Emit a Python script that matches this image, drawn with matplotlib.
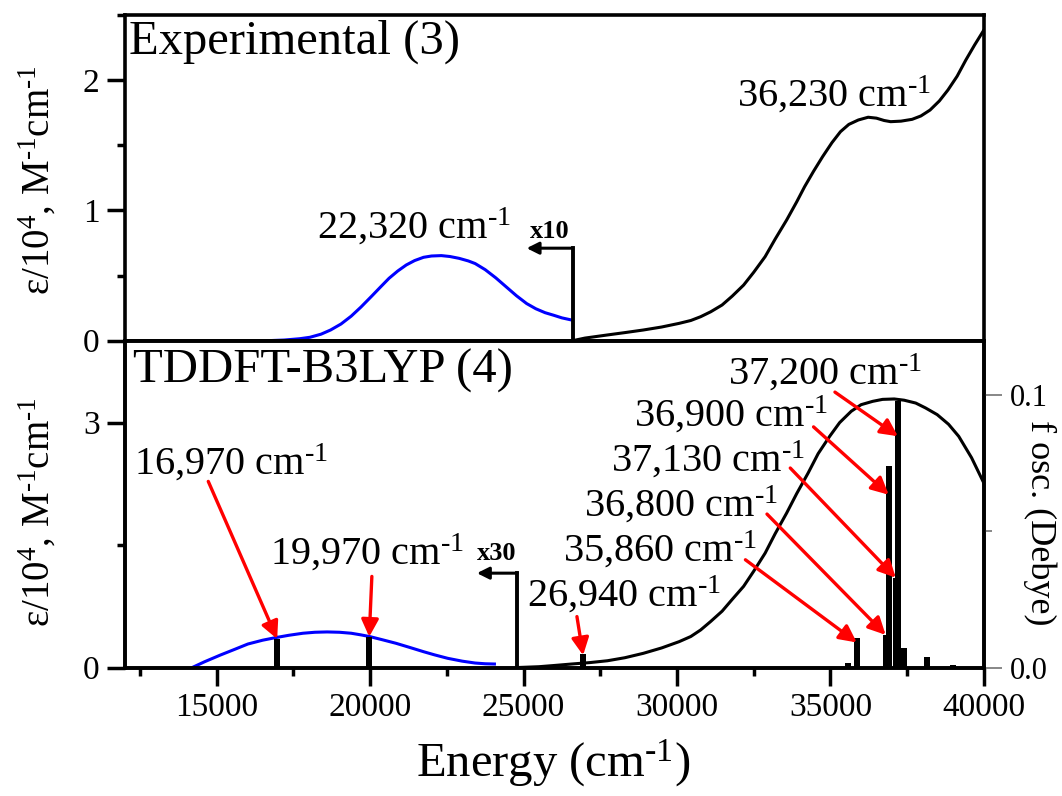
import matplotlib
matplotlib.use("Agg")
import matplotlib.pyplot as plt
from matplotlib.ticker import MultipleLocator, FormatStrFormatter

plt.rcParams["font.family"] = "Liberation Serif"
plt.rcParams["mathtext.fontset"] = "custom"
plt.rcParams["mathtext.rm"] = "Liberation Serif"
plt.rcParams["mathtext.it"] = "Liberation Serif:italic"
plt.rcParams["mathtext.bf"] = "Liberation Serif:bold"

# Experimental spectrum: low-energy band shown x10 (blue), rest at full scale (black)
exp_low_energy = [16650, 17200, 17700, 18035, 18400, 18710, 19050, 19381, 19700, 20055,
                  20350, 20616, 20900, 21176, 21450, 21740, 22000, 22320, 22600, 22900,
                  23200, 23422, 23750, 24096, 24400, 24768, 25100, 25400, 25700, 25984,
                  26250, 26560]
exp_low_eps = [0.0, 0.005, 0.015, 0.026, 0.05, 0.082, 0.128, 0.188, 0.258, 0.343,
               0.415, 0.479, 0.535, 0.581, 0.615, 0.640, 0.650, 0.653, 0.646, 0.632,
               0.612, 0.592, 0.545, 0.482, 0.42, 0.345, 0.285, 0.245, 0.215, 0.195,
               0.175, 0.159]
exp_high_energy = [26600, 27000, 27733, 28300, 28902, 29500, 30070, 30450, 30770, 31100,
                   31470, 31800, 32172, 32500, 32872, 33200, 33573, 33900, 34159, 34450,
                   34744, 35050, 35327, 35600, 35910, 36230, 36500, 36750, 36963, 37300,
                   37663, 37950, 38246, 38550, 38830, 39130, 39413, 39700, 40000]
exp_high_eps = [0.0, 0.02, 0.044, 0.062, 0.082, 0.105, 0.133, 0.155, 0.184, 0.222,
                0.274, 0.342, 0.427, 0.525, 0.645, 0.78, 0.926, 1.065, 1.182, 1.30,
                1.412, 1.52, 1.604, 1.66, 1.694, 1.715, 1.708, 1.69, 1.681, 1.685,
                1.699, 1.725, 1.770, 1.84, 1.924, 2.03, 2.154, 2.27, 2.384]
exp_peaks = [22320, 36230]
exp_split = 26600        # where the x10 part ends
exp_split_mark = 0.71
exp_split_arrow_end = 25100

# TDDFT-B3LYP simulated spectrum: low-energy part x30 (blue), rest black
calc_low_energy = [14200, 14600, 15119, 15600, 16015, 16500, 16914, 17350, 17810, 18200,
                   18596, 19000, 19381, 19700, 20000, 20400, 20841, 21300, 21740, 22100,
                   22526, 23000, 23422, 23750, 24050]
calc_low_eps = [0.0, 0.07, 0.153, 0.225, 0.288, 0.335, 0.366, 0.395, 0.42, 0.432,
                0.436, 0.432, 0.42, 0.40, 0.378, 0.34, 0.297, 0.245, 0.194, 0.155,
                0.113, 0.078, 0.055, 0.046, 0.043]
calc_high_energy = [24800, 25500, 26000, 26567, 27150, 27733, 28300, 28902, 29500, 30070,
                    30450, 30770, 31100, 31470, 31800, 32172, 32500, 32872, 33200, 33573,
                    33900, 34274, 34600, 34975, 35300, 35678, 36000, 36379, 36700, 37080,
                    37400, 37780, 38100, 38480, 38850, 39182, 39600, 40000]
calc_high_eps = [0.0, 0.01, 0.025, 0.043, 0.06, 0.083, 0.12, 0.174, 0.24, 0.317,
                 0.38, 0.46, 0.565, 0.69, 0.835, 0.995, 1.18, 1.401, 1.64, 1.892,
                 2.13, 2.383, 2.62, 2.832, 3.0, 3.139, 3.22, 3.261, 3.285, 3.29,
                 3.275, 3.24, 3.18, 3.098, 2.98, 2.832, 2.57, 2.26]
calc_split = 24790
calc_split_mark = 1.156
calc_split_arrow_end = 23480

# calculated transitions (oscillator strengths, right axis)
trans_energy = [16970, 19970, 26940, 35570, 35860, 36800, 36900, 37130, 37200, 37400, 38150, 39000]
trans_fosc = [0.0105, 0.0113, 0.0050, 0.0015, 0.0110, 0.012, 0.074, 0.033, 0.098, 0.0071, 0.0040, 0.0010]

# labelled transitions: (energy, text pos in axes coords, arrow tail in axes coords, arrow tip height)
trans_labels = [
    (16970, (0.0108, 0.591), (0.0973, 0.570), 0.0105),
    (19970, (0.1691, 0.315), (0.2877, 0.279), 0.0113),
    (26940, (0.4682, 0.187), (0.5264, 0.156), 0.0045),
    (35860, (0.5098, 0.325), (0.7225, 0.330), 0.0092),
    (36800, (0.5346, 0.463), (0.7476, 0.470), 0.012),
    (37130, (0.5660, 0.601), (0.7747, 0.611), 0.033),
    (36900, (0.5932, 0.739), (0.8018, 0.737), 0.0635),
    (37200, (0.7017, 0.867), (0.8267, 0.8435), 0.085),
]

SPINE_W = 2.6
INV = "$^{\\mathrm{\u2010}\\mathrm{1}}$"   # superscript "-1" drawn with a hyphen
CM = " cm" + INV


def wavenumber(value):
    return f"{value:,}" + CM


def style_axes(ax):
    for spine in ax.spines.values():
        spine.set_linewidth(SPINE_W)
    ax.tick_params(which="major", direction="out", length=13, width=2.5, labelsize=24, pad=5)
    ax.tick_params(which="minor", direction="out", length=6, width=2.5)


fig = plt.figure(figsize=(10.62, 7.96), dpi=100)
ax_exp = fig.add_axes([0.1174, 0.572, 0.8090, 0.4092])
ax_calc = fig.add_axes([0.1174, 0.1614, 0.8090, 0.4102])
ax_osc = ax_calc.twinx()

# --- experimental panel
style_axes(ax_exp)
ax_exp.plot(exp_low_energy, exp_low_eps, color="#0000ff", lw=2.2)
ax_exp.plot(exp_high_energy, exp_high_eps, color="black", lw=2.2)
ax_exp.plot([exp_split, exp_split], [0, exp_split_mark], color="black", lw=2.8)
ax_exp.annotate("", xy=(exp_split_arrow_end, exp_split_mark), xytext=(exp_split, exp_split_mark),
                arrowprops=dict(arrowstyle="-|>", color="black", lw=2.2, mutation_scale=18,
                                shrinkA=0, shrinkB=0))
ax_exp.text(25866, 0.786, "x10", fontsize=19, fontweight="bold", ha="center", va="baseline")
ax_exp.text(18260, 0.786, wavenumber(exp_peaks[0]), fontsize=29, ha="left", va="baseline")
ax_exp.text(31940, 1.80, wavenumber(exp_peaks[1]), fontsize=29, ha="left", va="baseline")
ax_exp.text(0.005, 0.882, "Experimental (3)", fontsize=35, transform=ax_exp.transAxes,
            ha="left", va="baseline")
ax_exp.set_xlim(12000, 40000)
ax_exp.set_ylim(0, 2.5)
ax_exp.yaxis.set_major_locator(MultipleLocator(1))
ax_exp.yaxis.set_minor_locator(MultipleLocator(0.5))
ax_exp.tick_params(axis="x", which="both", bottom=False, labelbottom=False)

# --- calculated panel
style_axes(ax_calc)
ax_calc.plot(calc_low_energy, calc_low_eps, color="#0000ff", lw=2.2)
ax_calc.plot(calc_high_energy, calc_high_eps, color="black", lw=2.2)
ax_calc.plot([calc_split, calc_split], [0, calc_split_mark], color="black", lw=2.8)
ax_calc.annotate("", xy=(calc_split_arrow_end, calc_split_mark), xytext=(calc_split, calc_split_mark),
                 arrowprops=dict(arrowstyle="-|>", color="black", lw=2.2, mutation_scale=18,
                                 shrinkA=0, shrinkB=0))
ax_calc.text(24126, 1.319, "x30", fontsize=19, fontweight="bold", ha="center", va="baseline")
ax_calc.text(0.0093, 0.873, "TDDFT-B3LYP (4)", fontsize=35, transform=ax_calc.transAxes,
             ha="left", va="baseline")
ax_calc.set_xlim(12000, 40000)
ax_calc.set_ylim(0, 4)
ax_calc.xaxis.set_major_locator(MultipleLocator(5000))
ax_calc.xaxis.set_minor_locator(MultipleLocator(2500))
ax_calc.yaxis.set_major_locator(MultipleLocator(3))
ax_calc.yaxis.set_minor_locator(MultipleLocator(1.5))

ax_osc.bar(trans_energy, trans_fosc, width=200, color="black", zorder=2)
ax_osc.set_ylim(0, 0.12)
for spine in ax_osc.spines.values():
    spine.set_linewidth(SPINE_W)
ax_osc.yaxis.set_major_locator(MultipleLocator(0.1))
ax_osc.yaxis.set_minor_locator(MultipleLocator(0.05))
ax_osc.yaxis.set_major_formatter(FormatStrFormatter("%.1f"))
ax_osc.tick_params(which="major", direction="out", length=13, width=1.2, color="0.45",
                   labelsize=22, pad=6)
ax_osc.tick_params(which="minor", direction="out", length=6, width=1.2, color="0.45")

for energy, text_pos, tail, tip in trans_labels:
    ax_osc.text(*text_pos, wavenumber(energy), fontsize=29, transform=ax_osc.transAxes,
                ha="left", va="baseline", zorder=5)
    ax_osc.annotate("", xy=(energy, tip), xycoords="data",
                    xytext=tail, textcoords="axes fraction",
                    arrowprops=dict(arrowstyle="-|>", color="red", lw=2.4, mutation_scale=26,
                                    shrinkA=0, shrinkB=0), zorder=4)

# axis titles
ylab = "ε/10$^{\\mathrm{4}}$, M" + INV + "cm" + INV
fig.text(0.036, 0.774, ylab, fontsize=28, rotation=90, ha="center", va="center")
fig.text(0.036, 0.357, ylab, fontsize=28, rotation=90, ha="center", va="center")
fig.text(0.979, 0.343, "f osc. (Debye)", fontsize=26, rotation=270, ha="center", va="center")
fig.text(0.521, 0.024, "Energy (cm" + INV + ")", fontsize=35, ha="center", va="baseline")

fig.savefig("out.png", dpi=100)
